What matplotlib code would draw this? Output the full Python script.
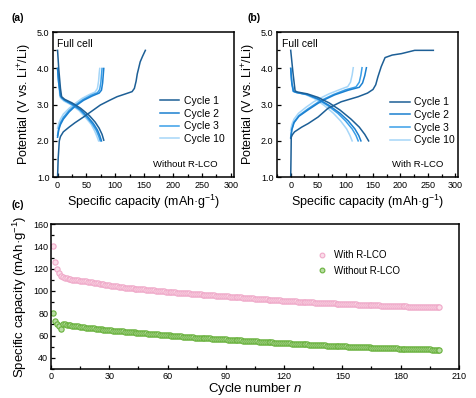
import matplotlib.pyplot as plt
from matplotlib.ticker import MultipleLocator

# ---------------- data ----------------
# (a) full cell without R-LCO : charge / discharge curves
a_c1_ch_x = [0, 1, 3, 5, 10, 20, 30, 45, 60, 74, 90, 103, 118, 129, 133, 136, 138, 140, 143, 147, 152]
a_c1_ch_y = [1.0, 1.5, 2.0, 2.12, 2.25, 2.38, 2.5, 2.66, 2.83, 2.99, 3.12, 3.22, 3.3, 3.36, 3.45, 3.65, 3.85, 3.98, 4.18, 4.33, 4.5]
a_c1_dis_x = [0, 2, 5, 7, 12, 25, 40, 55, 65, 72, 77, 80]
a_c1_dis_y = [4.5, 4.0, 3.45, 3.22, 3.15, 3.05, 2.9, 2.7, 2.52, 2.35, 2.18, 2.02]

a_c2_ch_x = [0, 2, 5, 10, 20, 30, 45, 60, 72, 76, 78, 79, 80]
a_c2_ch_y = [2.1, 2.3, 2.45, 2.6, 2.8, 2.95, 3.12, 3.24, 3.32, 3.4, 3.6, 3.8, 4.0]
a_c2_dis_x = [0, 2, 5, 7, 12, 25, 40, 52, 62, 69, 73, 76]
a_c2_dis_y = [4.0, 3.6, 3.25, 3.2, 3.13, 3.02, 2.86, 2.67, 2.48, 2.3, 2.15, 2.0]

a_c3_ch_x = [0, 2, 5, 10, 20, 30, 44, 58, 69, 73, 75, 76, 77]
a_c3_ch_y = [2.15, 2.35, 2.5, 2.65, 2.84, 2.98, 3.14, 3.26, 3.33, 3.42, 3.62, 3.82, 4.0]
a_c3_dis_x = [0, 2, 5, 7, 12, 24, 39, 50, 60, 67, 71, 74]
a_c3_dis_y = [4.0, 3.6, 3.24, 3.19, 3.12, 3.01, 2.85, 2.66, 2.47, 2.29, 2.14, 2.0]

a_c10_ch_x = [0, 2, 5, 10, 20, 30, 42, 55, 65, 69, 71, 72, 73]
a_c10_ch_y = [2.35, 2.48, 2.6, 2.74, 2.9, 3.03, 3.17, 3.28, 3.35, 3.45, 3.65, 3.85, 4.0]
a_c10_dis_x = [0, 2, 4, 6, 11, 23, 37, 48, 58, 64, 68, 71]
a_c10_dis_y = [4.0, 3.6, 3.22, 3.17, 3.1, 3.0, 2.84, 2.65, 2.46, 2.28, 2.13, 2.0]

# (b) full cell with R-LCO
b_c1_ch_x = [0, 0.5, 1, 3, 7, 20, 32, 50, 68, 92, 123, 140, 150, 155, 159, 165, 172, 185, 202, 226, 260]
b_c1_ch_y = [1.0, 1.5, 2.1, 2.17, 2.25, 2.38, 2.48, 2.66, 2.9, 3.08, 3.22, 3.32, 3.42, 3.55, 3.77, 4.05, 4.3, 4.37, 4.41, 4.5, 4.5]
b_c1_dis_x = [0, 4, 8, 12, 30, 50, 70, 90, 110, 125, 135, 142]
b_c1_dis_y = [4.5, 3.9, 3.38, 3.35, 3.3, 3.2, 3.05, 2.85, 2.6, 2.38, 2.18, 2.0]

b_c2_ch_x = [0, 2, 6, 15, 32, 50, 62, 80, 105, 125, 131, 135, 138]
b_c2_ch_y = [2.07, 2.3, 2.5, 2.68, 2.86, 3.04, 3.14, 3.27, 3.4, 3.48, 3.6, 3.8, 4.02]
b_c2_dis_x = [0, 2, 5, 10, 30, 50, 70, 90, 105, 117, 124, 128]
b_c2_dis_y = [4.0, 3.6, 3.37, 3.34, 3.28, 3.16, 2.98, 2.76, 2.55, 2.33, 2.15, 2.0]

b_c3_ch_x = [0, 2, 6, 15, 31, 48, 60, 78, 100, 119, 125, 128, 130]
b_c3_ch_y = [2.1, 2.32, 2.52, 2.7, 2.88, 3.05, 3.15, 3.28, 3.41, 3.49, 3.62, 3.82, 4.02]
b_c3_dis_x = [0, 2, 5, 10, 29, 48, 67, 86, 100, 112, 119, 123]
b_c3_dis_y = [4.0, 3.6, 3.37, 3.34, 3.28, 3.16, 2.98, 2.76, 2.55, 2.33, 2.15, 2.0]

b_c10_ch_x = [0, 2, 6, 14, 28, 42, 54, 70, 90, 104, 109, 112, 114]
b_c10_ch_y = [2.3, 2.45, 2.6, 2.76, 2.93, 3.08, 3.18, 3.3, 3.42, 3.5, 3.62, 3.82, 4.02]
b_c10_dis_x = [0, 2, 4, 9, 27, 44, 61, 78, 91, 102, 108, 112]
b_c10_dis_y = [4.0, 3.6, 3.37, 3.34, 3.28, 3.16, 2.98, 2.76, 2.55, 2.33, 2.15, 2.0]

cycle_labels = ['Cycle 1', 'Cycle 2', 'Cycle 3', 'Cycle 10']

# (c) cycling performance
cycles = list(range(1, 201))
cap_with = [
    140.0, 126.0, 120.0, 116.0, 113.5, 112.4, 111.7, 111.2, 110.8, 110.5,
    110.2, 110.0, 109.8, 109.6, 109.4, 109.2, 109.0, 108.7, 108.5, 108.2,
    107.9, 107.6, 107.3, 107.0, 106.7, 106.4, 106.1, 105.8, 105.5, 105.2,
    104.9, 104.6, 104.4, 104.1, 103.9, 103.6, 103.4, 103.1, 102.9, 102.7,
    102.5, 102.4, 102.2, 102.0, 101.9, 101.7, 101.5, 101.4, 101.2, 101.0,
    100.9, 100.7, 100.5, 100.4, 100.2, 100.0, 99.9, 99.7, 99.5, 99.4,
    99.2, 99.1, 98.9, 98.8, 98.6, 98.5, 98.3, 98.2, 98.0, 97.9,
    97.8, 97.6, 97.5, 97.4, 97.2, 97.1, 97.0, 96.8, 96.7, 96.6,
    96.4, 96.3, 96.2, 96.0, 95.9, 95.8, 95.6, 95.5, 95.4, 95.2,
    95.1, 95.0, 94.8, 94.7, 94.6, 94.4, 94.3, 94.2, 94.0, 93.9,
    93.8, 93.6, 93.5, 93.4, 93.2, 93.1, 93.0, 92.8, 92.7, 92.6,
    92.4, 92.3, 92.2, 92.0, 91.9, 91.8, 91.6, 91.5, 91.4, 91.2,
    91.1, 91.0, 90.9, 90.8, 90.7, 90.6, 90.5, 90.4, 90.3, 90.2,
    90.1, 90.0, 89.9, 89.8, 89.7, 89.6, 89.5, 89.5, 89.4, 89.3,
    89.2, 89.1, 89.0, 89.0, 88.9, 88.8, 88.7, 88.6, 88.6, 88.5,
    88.4, 88.3, 88.2, 88.2, 88.1, 88.0, 87.9, 87.8, 87.8, 87.7,
    87.6, 87.5, 87.5, 87.4, 87.3, 87.2, 87.2, 87.1, 87.0, 86.9,
    86.9, 86.8, 86.7, 86.7, 86.6, 86.5, 86.5, 86.4, 86.3, 86.3,
    86.2, 86.1, 86.1, 86.0, 85.9, 85.9, 85.8, 85.8, 85.7, 85.7,
    85.6, 85.6, 85.5, 85.5, 85.4, 85.4, 85.3, 85.3, 85.2, 85.2,
]
cap_without = [
    80.0, 72.7, 70.5, 68.5, 66.0, 70.5, 70.2, 69.9, 69.6, 69.3,
    69.0, 68.8, 68.5, 68.2, 67.9, 67.6, 67.4, 67.2, 67.0, 66.8,
    66.6, 66.4, 66.2, 66.0, 65.8, 65.6, 65.4, 65.3, 65.1, 64.9,
    64.7, 64.5, 64.4, 64.2, 64.0, 63.8, 63.7, 63.5, 63.4, 63.2,
    63.1, 62.9, 62.8, 62.6, 62.5, 62.3, 62.2, 62.0, 61.9, 61.7,
    61.6, 61.4, 61.3, 61.1, 61.0, 60.8, 60.7, 60.5, 60.4, 60.2,
    60.1, 59.9, 59.8, 59.6, 59.5, 59.3, 59.2, 59.0, 58.9, 58.7,
    58.6, 58.5, 58.4, 58.2, 58.1, 58.0, 57.9, 57.8, 57.7, 57.6,
    57.5, 57.4, 57.2, 57.1, 57.0, 56.9, 56.8, 56.7, 56.6, 56.5,
    56.4, 56.3, 56.1, 56.0, 55.9, 55.8, 55.7, 55.6, 55.5, 55.4,
    55.3, 55.2, 55.0, 54.9, 54.8, 54.7, 54.6, 54.5, 54.4, 54.3,
    54.2, 54.1, 53.9, 53.8, 53.7, 53.6, 53.5, 53.4, 53.3, 53.2,
    53.1, 53.0, 52.9, 52.8, 52.7, 52.6, 52.5, 52.4, 52.3, 52.2,
    52.1, 52.0, 51.9, 51.8, 51.7, 51.6, 51.5, 51.4, 51.3, 51.2,
    51.1, 51.0, 50.9, 50.8, 50.7, 50.7, 50.6, 50.5, 50.4, 50.3,
    50.2, 50.2, 50.1, 50.0, 49.9, 49.9, 49.8, 49.7, 49.6, 49.6,
    49.5, 49.4, 49.4, 49.3, 49.2, 49.2, 49.1, 49.0, 49.0, 48.9,
    48.8, 48.8, 48.7, 48.6, 48.6, 48.5, 48.5, 48.4, 48.3, 48.3,
    48.2, 48.2, 48.1, 48.0, 48.0, 47.9, 47.9, 47.8, 47.8, 47.7,
    47.7, 47.6, 47.6, 47.5, 47.5, 47.4, 47.4, 47.3, 47.3, 47.2,
]

# ---------------- style ----------------
plt.rcParams['font.family'] = ['Liberation Sans', 'DejaVu Sans']
plt.rcParams['mathtext.fontset'] = 'custom'
plt.rcParams['mathtext.rm'] = 'Liberation Sans'
plt.rcParams['mathtext.it'] = 'Liberation Sans:italic'
plt.rcParams['axes.linewidth'] = 1.1

cyc_colors = ['#1d5f96', '#1b80d0', '#3a9fe8', '#a6d6f8']


def style_vc(ax, xlim):
    ax.set_xlim(*xlim)
    ax.set_ylim(1.0, 5.0)
    ax.xaxis.set_major_locator(MultipleLocator(50))
    ax.xaxis.set_minor_locator(MultipleLocator(25))
    ax.yaxis.set_major_locator(MultipleLocator(1.0))
    ax.yaxis.set_minor_locator(MultipleLocator(0.5))
    ax.yaxis.set_major_formatter(plt.FormatStrFormatter('%.1f'))
    ax.tick_params(which='both', direction='in', labelsize=6.5, width=0.9, pad=2.5)
    ax.tick_params(which='major', length=3)
    ax.tick_params(which='minor', length=2)
    ax.set_xlabel('Specific capacity (mAh·g$^{-1}$)', fontsize=9, labelpad=2)
    ax.set_ylabel('Potential (V vs. Li$^{+}$/Li)', fontsize=9, labelpad=2)
    ax.text(0.025, 0.95, 'Full cell', transform=ax.transAxes, fontsize=7.5,
            va='top', ha='left')


fig = plt.figure(figsize=(4.77, 3.98), dpi=100)

# ---- (a)
ax_a = fig.add_axes([0.111, 0.555, 0.379, 0.364])
a_curves = [(a_c1_ch_x, a_c1_ch_y, a_c1_dis_x, a_c1_dis_y),
            (a_c2_ch_x, a_c2_ch_y, a_c2_dis_x, a_c2_dis_y),
            (a_c3_ch_x, a_c3_ch_y, a_c3_dis_x, a_c3_dis_y),
            (a_c10_ch_x, a_c10_ch_y, a_c10_dis_x, a_c10_dis_y)]
for i in range(3, -1, -1):
    cx, cy, dx, dy = a_curves[i]
    ax_a.plot(cx, cy, color=cyc_colors[i], lw=1.1, label=cycle_labels[i])
    ax_a.plot(dx, dy, color=cyc_colors[i], lw=1.1)
style_vc(ax_a, (-8, 305))
h, l = ax_a.get_legend_handles_labels()
ax_a.legend(h[::-1], l[::-1], loc='upper left', bbox_to_anchor=(0.55, 0.61),
            frameon=False, fontsize=7.5, handlelength=1.9, labelspacing=0.25,
            handletextpad=0.4, borderpad=0.2)
ax_a.text(0.91, 0.09, 'Without R-LCO', transform=ax_a.transAxes, fontsize=6.8,
          ha='right', va='center')

# ---- (b)
ax_b = fig.add_axes([0.5807, 0.555, 0.3795, 0.364])
b_curves = [(b_c1_ch_x, b_c1_ch_y, b_c1_dis_x, b_c1_dis_y),
            (b_c2_ch_x, b_c2_ch_y, b_c2_dis_x, b_c2_dis_y),
            (b_c3_ch_x, b_c3_ch_y, b_c3_dis_x, b_c3_dis_y),
            (b_c10_ch_x, b_c10_ch_y, b_c10_dis_x, b_c10_dis_y)]
for i in range(3, -1, -1):
    cx, cy, dx, dy = b_curves[i]
    ax_b.plot(cx, cy, color=cyc_colors[i], lw=1.1, label=cycle_labels[i])
    ax_b.plot(dx, dy, color=cyc_colors[i], lw=1.1)
style_vc(ax_b, (-25, 305))
h, l = ax_b.get_legend_handles_labels()
ax_b.legend(h[::-1], l[::-1], loc='upper left', bbox_to_anchor=(0.585, 0.60),
            frameon=False, fontsize=7.5, handlelength=1.9, labelspacing=0.25,
            handletextpad=0.4, borderpad=0.2)
ax_b.text(0.92, 0.09, 'With R-LCO', transform=ax_b.transAxes, fontsize=6.8,
          ha='right', va='center')

# ---- (c)
ax_c = fig.add_axes([0.107, 0.0729, 0.855, 0.364])
ax_c.plot(cycles, cap_with, 'o', ms=3.8, mfc='#fbdde9', mec='#f0a9c9', mew=0.8,
          label='With R-LCO')
ax_c.plot(cycles, cap_without, 'o', ms=3.8, mfc='#b7dca2', mec='#68b13c', mew=0.8,
          label='Without R-LCO')
ax_c.set_xlim(0, 210)
ax_c.set_ylim(30, 160)
ax_c.xaxis.set_major_locator(MultipleLocator(30))
ax_c.xaxis.set_minor_locator(MultipleLocator(15))
ax_c.yaxis.set_minor_locator(MultipleLocator(10))
ax_c.set_yticks([40, 60, 80, 100, 120, 140, 160])
ax_c.tick_params(which='both', direction='in', labelsize=6.5, width=0.9, pad=2)
ax_c.tick_params(which='major', length=3)
ax_c.tick_params(which='minor', length=2)
ax_c.set_xlabel('Cycle number $\\mathit{n}$', fontsize=9.5, labelpad=0)
ax_c.set_ylabel('Specific capacity (mAh·g$^{-1}$)', fontsize=9.5, labelpad=3)
ax_c.legend(loc='upper left', bbox_to_anchor=(0.63, 0.88), frameon=False,
            fontsize=7, handlelength=1.0, handletextpad=0.8, labelspacing=0.55,
            markerscale=0.9)

# panel tags
fig.text(0.025, 0.955, '(a)', fontsize=7.5, fontweight='bold', va='center')
fig.text(0.518, 0.955, '(b)', fontsize=7.5, fontweight='bold', va='center')
fig.text(0.025, 0.485, '(c)', fontsize=7.5, fontweight='bold', va='center')

fig.savefig('out.png', dpi=100)
